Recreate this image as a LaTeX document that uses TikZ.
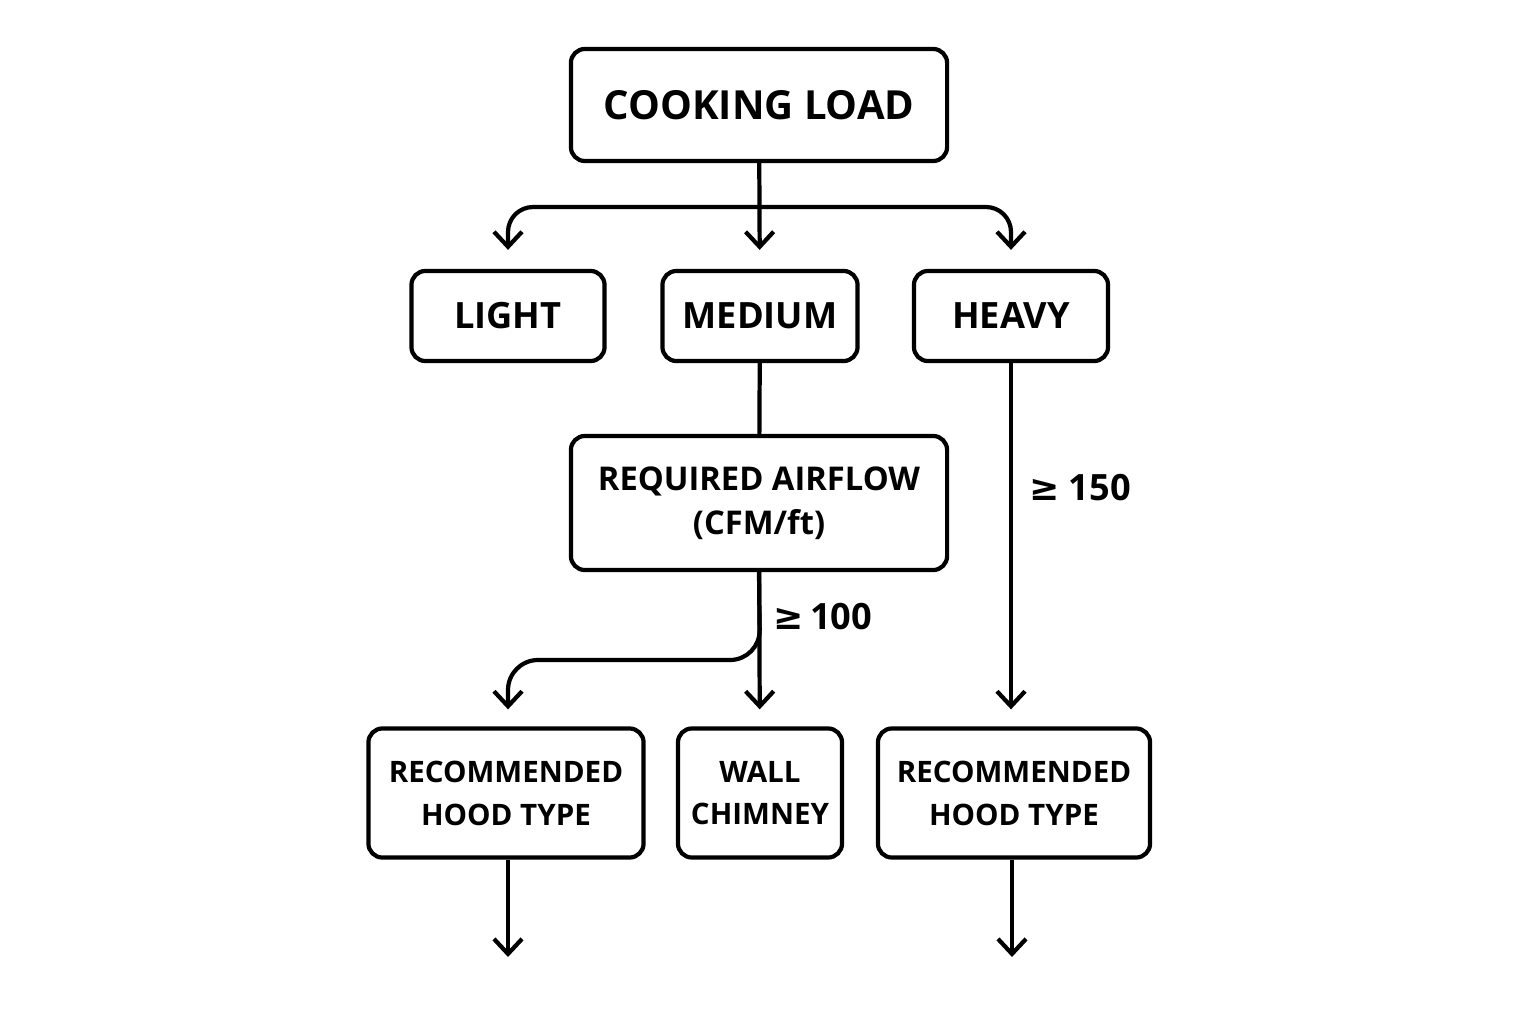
\documentclass[tikz,border=0pt]{standalone}
\usepackage{fontspec}
\setmainfont{Open Sans}
\newfontfamily\symfont{DejaVu Sans}
\usetikzlibrary{arrows.meta, positioning}

\tikzset{
  box/.style = {draw, line width=1.2pt, rounded corners=0.14cm, align=center,
                inner sep=0pt, font=\bfseries\fontsize{10.3}{14}\selectfont},
  small/.style = {font=\bfseries\fontsize{8.4}{12.2}\selectfont},
  arr/.style = {line width=1.2pt,
                -{Straight Barb[length=0.15cm, width=0.28cm, line width=1.2pt]}},
  lbl/.style = {font=\bfseries\fontsize{10.3}{14}\selectfont, inner sep=0pt}
}

\begin{document}
\begin{tikzpicture}[x=0.01cm, y=-0.01cm]
        \useasboundingbox (0,0) rectangle (1536,1024);
        % top level
        \node[box, minimum width=3.76cm, minimum height=1.12cm,
              font=\bfseries\fontsize{11.4}{14}\selectfont] (load) at (759,105) {COOKING LOAD};
        \node[box, minimum width=1.93cm, minimum height=0.9cm] (light) at (508,316) {LIGHT};
        \node[box, minimum width=1.95cm, minimum height=0.9cm] (medium) at (760,316) {MEDIUM};
        \node[box, minimum width=1.94cm, minimum height=0.9cm] (heavy) at (1011,316) {HEAVY};
        \node[box, minimum width=3.76cm, minimum height=1.34cm,
              font=\bfseries\fontsize{9.3}{12.5}\selectfont] (airflow) at (759,503) {REQUIRED AIRFLOW\\(CFM/ft)};
        % bottom row
        \node[box, small, minimum width=2.75cm, minimum height=1.29cm] (recl) at (506,793) {RECOMMENDED\\HOOD TYPE};
        \node[box, small, minimum width=1.64cm, minimum height=1.29cm] (wall) at (760,793) {WALL\\CHIMNEY};
        \node[box, small, minimum width=2.72cm, minimum height=1.29cm] (recr) at (1014,793) {RECOMMENDED\\HOOD TYPE};
        % labels
        \node[lbl] (ge150) at (1080,488) {{\symfont ≥} 150};
        \node[lbl] (ge100) at (823,617) {{\symfont ≥}\,100};
        % connectors
        \coordinate (split) at (760,207);
        \coordinate (fork) at (760,660);
        \coordinate (endl) at (508,957);
        \coordinate (endr) at (1012,957);
        \draw[arr, shorten >=0.19cm] (load) -- (medium);
        \draw[arr, rounded corners=0.25cm, shorten >=0.19cm] (split) -| (light);
        \draw[arr, rounded corners=0.25cm, shorten >=0.19cm] (split) -| (heavy);
        \draw[line width=1.2pt] (medium) -- (airflow);
        \draw[arr, shorten >=0.17cm] (airflow) -- (wall);
        \draw[arr, rounded corners=0.3cm, shorten >=0.17cm] (airflow.south) -- (fork) -| (recl.north -| endl);
        \draw[arr, shorten >=0.17cm] (heavy) -- (recr.north -| heavy);
        \draw[arr] (recl.south -| endl) -- (endl);
        \draw[arr] (recr.south -| endr) -- (endr);
    \end{tikzpicture}
\end{document}
